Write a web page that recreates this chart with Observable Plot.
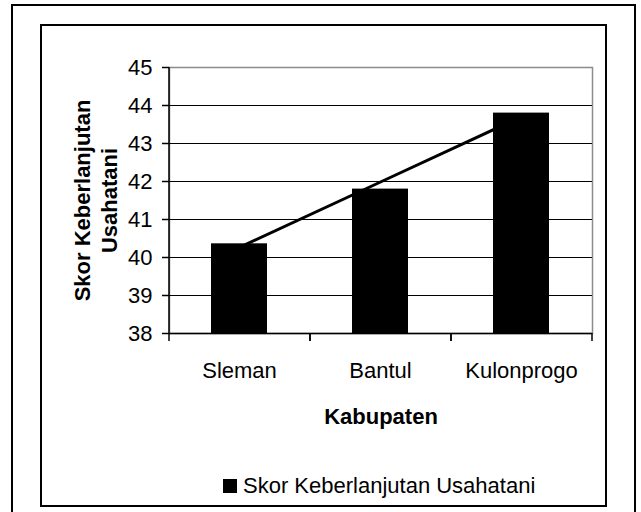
<!DOCTYPE html>
<html><head><meta charset="utf-8">
<script src="https://cdn.jsdelivr.net/npm/d3@7"></script>
<script src="https://cdn.jsdelivr.net/npm/@observablehq/plot@0.6"></script>
<style>
body{margin:0;background:#fff;}
#wrap{position:relative;width:641px;height:512px;overflow:hidden;font-family:"Liberation Sans",Arial,sans-serif;color:#000;}
.outer{position:absolute;left:11px;top:4px;width:621px;height:600px;border:2px solid #000;}
.inner{position:absolute;left:40px;top:24px;width:563px;height:479px;border:2px solid #000;}
#chart{position:absolute;left:0;top:0;}
#legend{position:absolute;left:223px;top:473px;height:26px;display:flex;align-items:center;font-size:22px;line-height:26px;white-space:nowrap;}
#legend .sw{width:14px;height:14px;background:#000;margin-right:6px;}
</style></head>
<body>
<div id="wrap">
  <div class="outer"></div>
  <div class="inner"></div>
  <div id="chart"></div>
  <div id="legend"><span class="sw"></span><span>Skor Keberlanjutan Usahatani</span></div>
</div>
<script>
const kabupaten = ["Sleman", "Bantul", "Kulonprogo"];
const skor = [40.36, 41.80, 43.80];
const yTicks = [38, 39, 40, 41, 42, 43, 44, 45];
const xTitle = "Kabupaten";
const yTitle = "Skor Keberlanjutan\nUsahatani";

const data = kabupaten.map((k, i) => ({kabupaten: k, skor: skor[i]}));
// Linear trend line (least squares) of the series
const xs = skor.map((_, i) => i);
const mx = d3.mean(xs), my = d3.mean(skor);
const slope = d3.sum(xs, (x, i) => (x - mx) * (skor[i] - my)) / d3.sum(xs, x => (x - mx) ** 2);
const trend = kabupaten.map((k, i) => ({kabupaten: k, skor: my + slope * (i - mx)}));

const W = 641, H = 440, ML = 169, MR = 49, MT = 67, MB = 107;
const step = (W - ML - MR) / kabupaten.length;

const chart = Plot.plot({
  width: W, height: H,
  marginLeft: ML, marginRight: MR, marginTop: MT, marginBottom: MB,
  style: {background: "transparent", fontFamily: "Liberation Sans, Arial, sans-serif", fontSize: "22px", color: "#000", overflow: "visible"},
  x: {type: "band", domain: kabupaten, paddingInner: 0.6, paddingOuter: 0.3, label: null, axis: null},
  y: {domain: [38, 45], label: null, axis: null},
  marks: [
    Plot.frame({stroke: "#8c8c8c", strokeWidth: 1.5}),
    Plot.gridY(yTicks.filter(t => t > 38 && t < 45), {stroke: "#000", strokeOpacity: 1, strokeWidth: 1.2}),
    Plot.line(trend, {x: "kabupaten", y: "skor", stroke: "#000", strokeWidth: 3}),
    Plot.barY(data, {x: "kabupaten", y1: 38, y2: "skor", fill: "#000"}),
    Plot.ruleY([38], {stroke: "#000", strokeWidth: 1.5}),
    Plot.ruleX([kabupaten[0]], {dx: -step / 2, stroke: "#000", strokeWidth: 1.5}),
    Plot.axisY({ticks: yTicks, tickSize: 7, tickPadding: 10, tickFormat: d => String(d), fontSize: 22, label: null, stroke: "#000", strokeWidth: 1.5}),
    Plot.axisX({tickSize: 8, dx: -step / 2, tickFormat: () => "", label: null, stroke: "#000", strokeWidth: 1.5}),
    Plot.axisX({tickSize: 8, dx: step / 2, tickFormat: () => "", label: null, stroke: "#000", strokeWidth: 1.5}),
    Plot.axisX({tickSize: 0, tickPadding: 29, fontSize: 22, label: null}),
    Plot.text([xTitle], {frameAnchor: "bottom", dy: 75, lineAnchor: "top", fontWeight: "bold", fontSize: 22}),
    Plot.text([yTitle], {frameAnchor: "left", dx: -99, rotate: -90, lineAnchor: "top", textAnchor: "middle", fontWeight: "bold", fontSize: 22, lineHeight: 1.23})
  ]
});
document.getElementById("chart").appendChild(chart);
</script>
</body></html>
